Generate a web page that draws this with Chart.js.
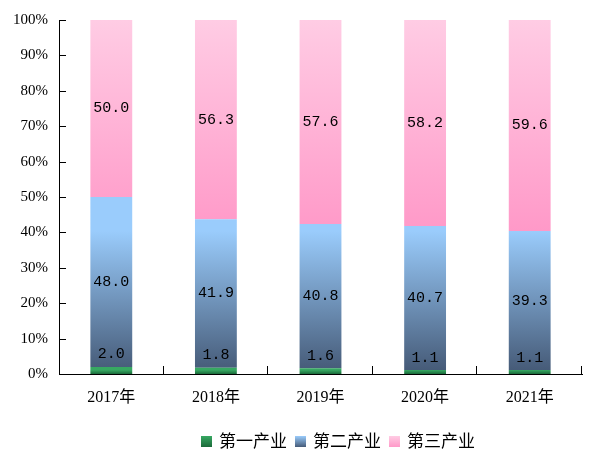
<!DOCTYPE html>
<html>
<head>
<meta charset="utf-8">
<script src="https://cdn.jsdelivr.net/npm/chart.js@4"></script>
<style>
  html, body { margin: 0; padding: 0; background: #fff; }
  #wrap { width: 600px; height: 462px; }
</style>
</head>
<body>
<div id="wrap"><canvas id="c"></canvas></div>
<script>
const years = ['2017年', '2018年', '2019年', '2020年', '2021年'];
const primary = [2.0, 1.8, 1.6, 1.1, 1.1];
const secondary = [48.0, 41.9, 40.8, 40.7, 39.3];
const tertiary = [50.0, 56.3, 57.6, 58.2, 59.6];
const seriesNames = ['第一产业', '第二产业', '第三产业'];

// top / bottom colours of each bar gradient
const shades = [
  ['#37a862', '#1b6a3a'],
  ['#9accfc', '#465b78'],
  ['#ffcce4', '#ff99c8']
];

const serif = '"Liberation Serif", "Noto Sans CJK SC", serif';
const mono = '"Liberation Mono", monospace';

// gradient per bar, from its own top to its base
const gradientBars = {
  id: 'gradientBars',
  beforeDatasetsDraw(chart) {
    const ctx = chart.ctx;
    chart.data.datasets.forEach((ds, i) => {
      chart.getDatasetMeta(i).data.forEach(bar => {
        const g = ctx.createLinearGradient(0, bar.y, 0, bar.base);
        g.addColorStop(0, shades[i][0]);
        g.addColorStop(1, shades[i][1]);
        bar.options.backgroundColor = g;
      });
    });
  }
};

// value labels, inner ticks and the legend
const extras = {
  id: 'extras',
  afterDraw(chart) {
    const ctx = chart.ctx;
    const area = chart.chartArea;
    const ys = chart.scales.y;
    ctx.save();

    ctx.font = '15px ' + mono;
    ctx.fillStyle = '#000';
    ctx.textAlign = 'center';
    chart.data.datasets.forEach((ds, i) => {
      chart.getDatasetMeta(i).data.forEach((bar, j) => {
        const txt = ds.data[j].toFixed(1);
        if (i === 0) {
          ctx.textBaseline = 'bottom';
          ctx.fillText(txt, bar.x, bar.y - 5);
        } else {
          ctx.textBaseline = 'middle';
          ctx.fillText(txt, bar.x, (bar.y + bar.base) / 2);
        }
      });
    });

    ctx.strokeStyle = '#000';
    ctx.lineWidth = 1;
    ctx.beginPath();
    ys.ticks.forEach(t => {
      const y = Math.round(ys.getPixelForValue(t.value)) + 0.5;
      ctx.moveTo(area.left, y);
      ctx.lineTo(area.left + 7, y);
    });
    for (let k = 1; k <= years.length; k++) {
      const x = Math.round(area.left + (area.right - area.left) * k / years.length) - 0.5;
      ctx.moveTo(x, area.bottom);
      ctx.lineTo(x, area.bottom - 8);
    }
    ctx.stroke();

    ctx.font = '17px "Noto Sans CJK SC", sans-serif';
    ctx.textBaseline = 'middle';
    ctx.textAlign = 'left';
    let lx = 201;
    const ly = 441;
    seriesNames.forEach((name, i) => {
      const g = ctx.createLinearGradient(0, ly - 5, 0, ly + 6);
      g.addColorStop(0, shades[i][0]);
      g.addColorStop(1, shades[i][1]);
      ctx.fillStyle = g;
      ctx.fillRect(lx, ly - 5, 11, 11);
      ctx.fillStyle = '#000';
      ctx.fillText(name, lx + 18, ly);
      lx += 18 + ctx.measureText(name).width + 8;
    });
    ctx.restore();
  }
};

new Chart(document.getElementById('c'), {
  type: 'bar',
  data: {
    labels: years,
    datasets: [
      { label: seriesNames[0], data: primary },
      { label: seriesNames[1], data: secondary },
      { label: seriesNames[2], data: tertiary }
    ]
  },
  options: {
    responsive: true,
    maintainAspectRatio: false,
    animation: false,
    devicePixelRatio: 1,
    layout: { padding: { top: 18, right: 18, bottom: 58, left: 0 } },
    datasets: { bar: { categoryPercentage: 1, barPercentage: 0.4, borderWidth: 0 } },
    plugins: { legend: { display: false }, tooltip: { enabled: false } },
    scales: {
      x: {
        stacked: true,
        grid: { display: false, drawTicks: false },
        border: { color: '#000', width: 1 },
        ticks: { color: '#000', font: { family: serif, size: 16 }, padding: 14 },
        afterFit: s => { s.height = 30; }
      },
      y: {
        stacked: true,
        min: 0,
        max: 100,
        grid: { display: false, drawTicks: false },
        border: { color: '#000', width: 1 },
        ticks: { stepSize: 10, color: '#000', font: { family: serif, size: 15 }, padding: 11,
                 callback: v => v + '%' },
        afterFit: s => { s.width = 59; }
      }
    }
  },
  plugins: [gradientBars, extras]
});
</script>
</body>
</html>
